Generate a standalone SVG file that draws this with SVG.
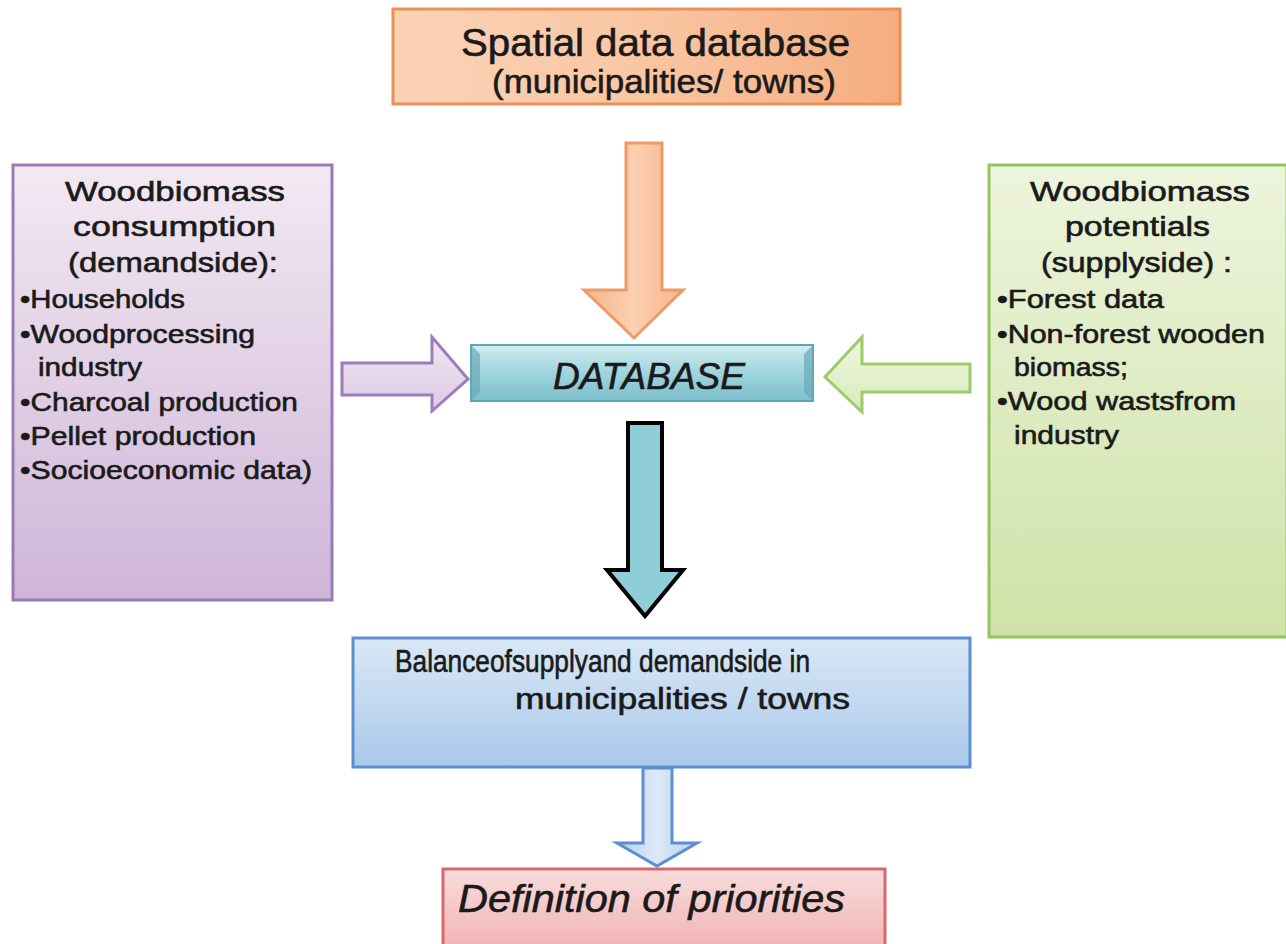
<svg xmlns="http://www.w3.org/2000/svg" width="1286" height="944" viewBox="0 0 1286 944">
<defs>
<linearGradient id="gOr" x1="0" y1="0" x2="1" y2="0"><stop offset="0" stop-color="#fbd3b8"/><stop offset="0.5" stop-color="#f9c6a2"/><stop offset="1" stop-color="#f5ad80"/></linearGradient>
<linearGradient id="gOrA" x1="0" y1="0" x2="1" y2="0"><stop offset="0" stop-color="#f6b48c"/><stop offset="0.5" stop-color="#fbd0b2"/><stop offset="1" stop-color="#f6b48c"/></linearGradient>
<linearGradient id="gPu" x1="0" y1="0" x2="0" y2="1"><stop offset="0" stop-color="#f3e9f2"/><stop offset="1" stop-color="#cfb5d8"/></linearGradient>
<linearGradient id="gGr" x1="0" y1="0" x2="0" y2="1"><stop offset="0" stop-color="#edf4dc"/><stop offset="1" stop-color="#cfe2a8"/></linearGradient>
<linearGradient id="gTe" x1="0" y1="0" x2="0" y2="1"><stop offset="0" stop-color="#d3edf1"/><stop offset="0.5" stop-color="#9fd4dd"/><stop offset="1" stop-color="#7cbfcb"/></linearGradient>
<linearGradient id="gBl" x1="0" y1="0" x2="0" y2="1"><stop offset="0" stop-color="#dae8f6"/><stop offset="1" stop-color="#a9c8ea"/></linearGradient>
<linearGradient id="gBlA" x1="0" y1="0" x2="1" y2="0"><stop offset="0" stop-color="#b6d0ee"/><stop offset="0.5" stop-color="#dde9f7"/><stop offset="1" stop-color="#b6d0ee"/></linearGradient>
<linearGradient id="gPk" x1="0" y1="0" x2="0" y2="1"><stop offset="0" stop-color="#f9dcdc"/><stop offset="1" stop-color="#f1b3b5"/></linearGradient>
<linearGradient id="gPuA" x1="0" y1="0" x2="0" y2="1"><stop offset="0" stop-color="#f1e6f2"/><stop offset="1" stop-color="#dccbe4"/></linearGradient>
<linearGradient id="gGrA" x1="0" y1="0" x2="0" y2="1"><stop offset="0" stop-color="#eef6df"/><stop offset="1" stop-color="#d9eabd"/></linearGradient>
</defs>
<style>
text{font-family:"Liberation Sans",Arial,sans-serif;fill:#1a1a1a;stroke:#1a1a1a;stroke-width:0.6px}
.t38{font-size:38px}
.t34{font-size:34px}
.t28{font-size:28px}
.t26{font-size:26px}
.it{font-style:italic}
</style>
<rect width="1286" height="944" fill="#ffffff"/>
<g id="connectors">
<path d="M626,143 H662 V290 H683 L634,338 L584,290 H626 Z" fill="url(#gOrA)" stroke="#ee9a66" stroke-width="3"/>
<path d="M342,363 H432 V337 L468,379 L432,411 V395 H342 Z" fill="url(#gPuA)" stroke="#9e7bbd" stroke-width="3"/>
<path d="M970,364 H862 V337 L825,377 L862,412 V392 H970 Z" fill="url(#gGrA)" stroke="#9ccc6a" stroke-width="3"/>
<path d="M628,423 H662 V570 H683 L645,616 L607,570 H628 Z" fill="#8fcdd8" stroke="#000" stroke-width="4"/>
<path d="M643,768 H672 V843 H697 L657,866 L617,843 H643 Z" fill="url(#gBlA)" stroke="#5b8fcf" stroke-width="3"/>
</g>
<g id="spatial">
<rect x="393" y="9" width="507" height="95" fill="url(#gOr)" stroke="#ee8f55" stroke-width="3"/>
<text class="t38" x="461" y="56" textLength="389" lengthAdjust="spacingAndGlyphs">Spatial data database</text>
<text class="t34" x="492" y="93" textLength="344" lengthAdjust="spacingAndGlyphs">(municipalities/ towns)</text>
</g>
<g id="consumption">
<rect x="13" y="165" width="319" height="435" fill="url(#gPu)" stroke="#9b7bb6" stroke-width="3"/>
<text class="t28" x="65" y="201" textLength="220" lengthAdjust="spacingAndGlyphs">Woodbiomass</text>
<text class="t28" x="73" y="236" textLength="203" lengthAdjust="spacingAndGlyphs">consumption</text>
<text class="t28" x="68" y="272" textLength="210" lengthAdjust="spacingAndGlyphs">(demandside):</text>
<text class="t26" x="20" y="308" textLength="165" lengthAdjust="spacingAndGlyphs">•Households</text>
<text class="t26" x="20" y="343" textLength="235" lengthAdjust="spacingAndGlyphs">•Woodprocessing</text>
<text class="t26" x="38" y="376" textLength="104" lengthAdjust="spacingAndGlyphs">industry</text>
<text class="t26" x="20" y="411" textLength="278" lengthAdjust="spacingAndGlyphs">•Charcoal production</text>
<text class="t26" x="20" y="445" textLength="236" lengthAdjust="spacingAndGlyphs">•Pellet production</text>
<text class="t26" x="20" y="479" textLength="292" lengthAdjust="spacingAndGlyphs">•Socioeconomic data)</text>
</g>
<g id="potentials">
<rect x="989" y="165" width="298" height="472" fill="url(#gGr)" stroke="#93c55e" stroke-width="3"/>
<text class="t28" x="1030" y="201" textLength="220" lengthAdjust="spacingAndGlyphs">Woodbiomass</text>
<text class="t28" x="1065" y="236" textLength="145" lengthAdjust="spacingAndGlyphs">potentials</text>
<text class="t28" x="1041" y="272" textLength="191" lengthAdjust="spacingAndGlyphs">(supplyside) :</text>
<text class="t26" x="997" y="308" textLength="167" lengthAdjust="spacingAndGlyphs">•Forest data</text>
<text class="t26" x="997" y="343" textLength="268" lengthAdjust="spacingAndGlyphs">•Non-forest wooden</text>
<text class="t26" x="1014" y="376" textLength="114" lengthAdjust="spacingAndGlyphs">biomass;</text>
<text class="t26" x="997" y="410" textLength="239" lengthAdjust="spacingAndGlyphs">•Wood wastsfrom</text>
<text class="t26" x="1014" y="444" textLength="105" lengthAdjust="spacingAndGlyphs">industry</text>
</g>
<g id="database">
<rect x="471" y="345" width="342" height="56" fill="url(#gTe)" stroke="#5aa7b5" stroke-width="2"/>
<path d="M471,345 L480,354 L480,392 L471,401 Z" fill="#6aaab6" opacity="0.7"/>
<path d="M813,345 L804,354 L804,392 L813,401 Z" fill="#6aaab6" opacity="0.7"/>
<text class="t34 it" x="553" y="389" textLength="192" lengthAdjust="spacingAndGlyphs" style="font-size:36px">DATABASE</text>
</g>
<g id="balance">
<rect x="353" y="638" width="617" height="129" fill="url(#gBl)" stroke="#5b8fcf" stroke-width="3"/>
<text class="t28" x="395" y="672" textLength="415" lengthAdjust="spacingAndGlyphs" style="font-size:31px">Balanceofsupplyand demandside in</text>
<text class="t28" x="515" y="709" textLength="335" lengthAdjust="spacingAndGlyphs" style="font-size:30px">municipalities / towns</text>
</g>
<g id="priorities">
<rect x="443" y="869" width="442" height="80" fill="url(#gPk)" stroke="#d9676c" stroke-width="3"/>
<text class="t38 it" x="458" y="912" textLength="387" lengthAdjust="spacingAndGlyphs">Definition of priorities</text>
</g>
</svg>
